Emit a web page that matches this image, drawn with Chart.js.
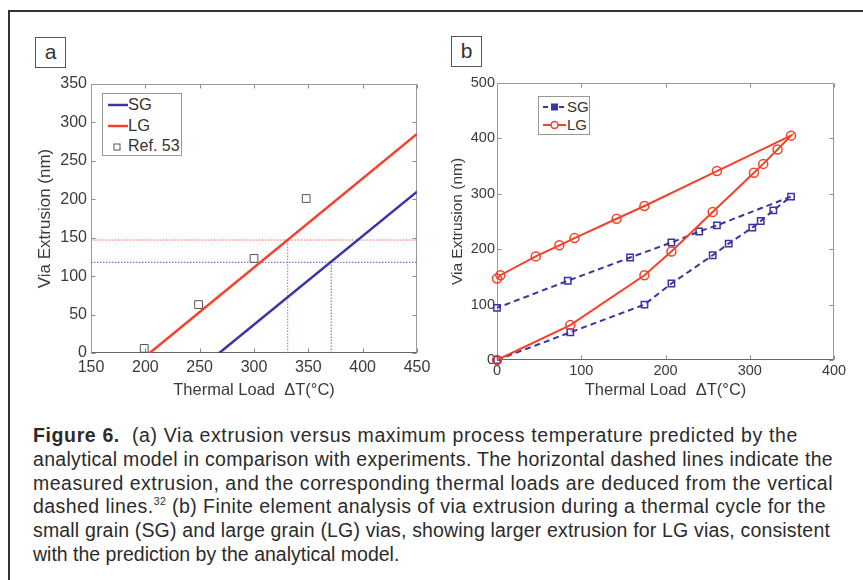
<!DOCTYPE html>
<html>
<head>
<meta charset="utf-8">
<script src="https://cdn.jsdelivr.net/npm/chart.js@4.4.0/dist/chart.umd.min.js"></script>
<style>
    html, body { margin: 0; padding: 0; background: #fff; }
    body { width: 863px; height: 580px; position: relative; overflow: hidden; font-family: "Liberation Sans", Arial, sans-serif; color: #333; }
    #frame { position: absolute; left: 8px; top: 10px; width: 900px; height: 620px; border: 2px solid #333; box-sizing: border-box; }
    canvas { position: absolute; top: 0; }
    #chartA { left: 0; }
    #chartB { left: 430px; }
    .tag { position: absolute; width: 31px; height: 31px; border: 1px solid #555; box-sizing: border-box; font-size: 21px; line-height: 27px; text-align: center; color: #333; background: #fff; }
    .legend { position: absolute; border: 1px solid #999; background: #fff; box-sizing: border-box; }
    .legend svg { position: absolute; left: 0; top: 0; }
    .legend span { position: absolute; white-space: nowrap; color: #333; }
    #caption { position: absolute; left: 33px; top: 424px; font-size: 17.5px; line-height: 23.8px; color: #2b2b2b; }
    #caption div { white-space: nowrap; height: 23.8px; }
    #caption div span.ln { display: inline-block; }
    sup { font-size: 10.5px; line-height: 0; position: relative; top: -1px; }
</style>
</head>
<body>
<div id="frame"></div>
<canvas id="chartA" width="440" height="400"></canvas>
<canvas id="chartB" width="433" height="400"></canvas>

<div class="tag" style="left:35px; top:37px;">a</div>
<div class="tag" style="left:451px; top:36px;">b</div>

<div class="legend" style="left:102px; top:93px; width:80px; height:63px;">
    <svg width="80" height="63">
        <line x1="5" y1="11" x2="25" y2="11" stroke="#3b35a3" stroke-width="2.5"/>
        <line x1="5" y1="32" x2="25" y2="32" stroke="#f5412b" stroke-width="2.5"/>
        <rect x="11" y="50" width="6" height="6" fill="none" stroke="#555" stroke-width="1"/>
    </svg>
    <span style="left:25px; top:1px; font-size:16.5px;">SG</span>
    <span style="left:25px; top:22px; font-size:16.5px;">LG</span>
    <span style="left:25px; top:43px; font-size:16px;">Ref. 53</span>
</div>

<div class="legend" style="left:538px; top:96px; width:52px; height:39px;">
    <svg width="52" height="39">
        <line x1="4" y1="10" x2="27" y2="10" stroke="#3b35a3" stroke-width="2" stroke-dasharray="5,3"/>
        <rect x="12.5" y="7" width="6" height="6" fill="#3b35a3" stroke="#3b35a3" stroke-width="1"/>
        <line x1="4" y1="28" x2="27" y2="28" stroke="#f5412b" stroke-width="2"/>
        <circle cx="15.5" cy="28" r="3.5" fill="#fff" stroke="#f5412b" stroke-width="1.5"/>
    </svg>
    <span style="left:28px; top:1px; font-size:15px;">SG</span>
    <span style="left:28px; top:19px; font-size:15px;">LG</span>
</div>

<div id="caption">
    <div><span class="ln" data-w="765"><b>Figure 6.</b>&nbsp; (a) Via extrusion versus maximum process temperature predicted by the</span></div>
    <div><span class="ln" data-w="800">analytical model in comparison with experiments. The horizontal dashed lines indicate the</span></div>
    <div><span class="ln" data-w="800">measured extrusion, and the corresponding thermal loads are deduced from the vertical</span></div>
    <div><span class="ln" data-w="793">dashed lines.<sup>32</sup> (b) Finite element analysis of via extrusion during a thermal cycle for the</span></div>
    <div><span class="ln" data-w="797">small grain (SG) and large grain (LG) vias, showing larger extrusion for LG vias, consistent</span></div>
    <div><span class="ln">with the prediction by the analytical model.</span></div>
</div>

<script>
// (a) analytical model: straight lines over thermal load
const sgModelLoad = [268, 450];
const sgModelExtrusion = [0, 210];
const lgModelLoad = [204, 450];
const lgModelExtrusion = [0, 285];

// (a) Ref. 53 experiments
const ref53Load = [199, 249, 300, 348];
const ref53Extrusion = [6, 63, 123, 201];

// (a) measured extrusion and deduced thermal loads (dashed guides)
const lgMeasured = 147;
const lgDeducedLoad = 331;
const sgMeasured = 118;
const sgDeducedLoad = 371;

// (b) finite element thermal cycle (heating branch then cooling branch)
const sgCycleLoad = [0, 87, 175, 207, 256, 275, 303, 313, 328, 349, 261, 240, 207, 158, 84, 0];
const sgCycleExtrusion = [0, 50, 100, 138, 189, 210, 239, 251, 270, 295, 243, 232, 212, 185, 143, 94];
const lgCycleLoad = [0, 87, 175, 207, 256, 305, 316, 333, 349, 261, 175, 142, 92, 74, 46, 4, 0];
const lgCycleExtrusion = [0, 63, 153, 196, 267, 338, 354, 380, 405, 341, 278, 255, 220, 207, 187, 153, 147];

const SG_COLOR = '#3b35a3';
const LG_COLOR = '#f5412b';

Chart.defaults.font.family = '"Liberation Sans", Arial, sans-serif';

function pts(xs, ys) {
    return xs.map((x, i) => ({ x: x, y: ys[i] }));
}

// matlab style box with inward ticks
const matlabBox = {
    id: 'matlabBox',
    beforeDatasetsDraw(chart) {
        const ctx = chart.ctx;
        const a = chart.chartArea;
        const xs = chart.scales.x;
        const ys = chart.scales.y;
        const l = Math.round(a.left) + 0.5, r = Math.round(a.right) - 0.5;
        const t = Math.round(a.top) + 0.5, b = Math.round(a.bottom) - 0.5;
        ctx.save();
        ctx.strokeStyle = '#8a8a8a';
        ctx.lineWidth = 1;
        ctx.beginPath();
        xs.ticks.forEach(tk => {
            const px = Math.round(xs.getPixelForValue(tk.value)) + 0.5;
            ctx.moveTo(px, b); ctx.lineTo(px, b - 4);
            ctx.moveTo(px, t); ctx.lineTo(px, t + 4);
        });
        ys.ticks.forEach(tk => {
            const py = Math.round(ys.getPixelForValue(tk.value)) + 0.5;
            ctx.moveTo(l, py); ctx.lineTo(l + 4, py);
            ctx.moveTo(r, py); ctx.lineTo(r - 4, py);
        });
        ctx.stroke();
        ctx.strokeStyle = '#9a9a9a';
        ctx.strokeRect(l, t, r - l, b - t);
        ctx.strokeStyle = '#666';
        ctx.beginPath();
        ctx.moveTo(l, b); ctx.lineTo(r, b);
        ctx.stroke();
        ctx.restore();
    }
};

function axes(cfg) {
    return {
        x: {
            type: 'linear', min: cfg.xMin, max: cfg.xMax,
            grid: { display: false, drawTicks: false }, border: { display: false },
            ticks: { stepSize: cfg.xStep, padding: cfg.xPad, color: '#3a3a3a', font: { size: cfg.tickSize } },
            title: { display: true, text: 'Thermal Load  \u0394T(\u00b0C)', color: '#3a3a3a', font: { size: 16.5 }, padding: { top: 0, bottom: 0 } },
            afterFit: s => { s.height = cfg.xHeight; }
        },
        y: {
            type: 'linear', min: cfg.yMin, max: cfg.yMax,
            grid: { display: false, drawTicks: false }, border: { display: false },
            ticks: { stepSize: cfg.yStep, padding: cfg.yPad, color: '#3a3a3a', font: { size: cfg.tickSize } },
            title: { display: true, text: 'Via Extrusion (nm)', color: '#3a3a3a', font: { size: cfg.yTitleSize }, padding: { top: cfg.yTitlePad, bottom: 0 } },
            afterFit: s => { s.width = cfg.yWidth; }
        }
    };
}

const common = {
    responsive: false,
    animation: false,
    devicePixelRatio: 1,
    plugins: { legend: { display: false }, tooltip: { enabled: false } }
};

new Chart(document.getElementById('chartA').getContext('2d'), {
    type: 'scatter',
    data: {
        datasets: [
            { data: pts(ref53Load, ref53Extrusion), pointStyle: 'rect', pointRadius: 5.5, borderColor: '#555', backgroundColor: 'rgba(0,0,0,0)', borderWidth: 1, clip: false },
            { data: pts(lgModelLoad, lgModelExtrusion), showLine: true, borderColor: LG_COLOR, borderWidth: 2.5, pointRadius: 0 },
            { data: pts(sgModelLoad, sgModelExtrusion), showLine: true, borderColor: SG_COLOR, borderWidth: 2.5, pointRadius: 0 },
            { data: pts([150, 450], [lgMeasured, lgMeasured]), showLine: true, borderColor: '#ff5a4a', borderWidth: 1, borderDash: [1.5, 1.5], pointRadius: 0 },
            { data: pts([lgDeducedLoad, lgDeducedLoad], [0, lgMeasured]), showLine: true, borderColor: '#ff5a4a', borderWidth: 1, borderDash: [1.5, 1.5], pointRadius: 0 },
            { data: pts([150, 450], [sgMeasured, sgMeasured]), showLine: true, borderColor: '#5a55c0', borderWidth: 1, borderDash: [1.5, 1.5], pointRadius: 0 },
            { data: pts([sgDeducedLoad, sgDeducedLoad], [0, sgMeasured]), showLine: true, borderColor: '#5a55c0', borderWidth: 1, borderDash: [1.5, 1.5], pointRadius: 0 }
        ]
    },
    options: Object.assign({}, common, {
        layout: { padding: { left: 30, top: 84, right: 23, bottom: 0 } },
        scales: axes({ xMin: 150, xMax: 450, xStep: 50, yMin: 0, yMax: 350, yStep: 50,
            tickSize: 16, xPad: 5, yPad: 4, xHeight: 47, yWidth: 61, yTitleSize: 17, yTitlePad: 5 })
    }),
    plugins: [matlabBox]
});

new Chart(document.getElementById('chartB').getContext('2d'), {
    type: 'scatter',
    data: {
        datasets: [
            { data: pts(lgCycleLoad, lgCycleExtrusion), showLine: true, borderColor: LG_COLOR, borderWidth: 2, pointStyle: 'circle', pointRadius: 4.5, pointBorderWidth: 1.5, pointBorderColor: LG_COLOR, pointBackgroundColor: 'rgba(255,255,255,0)', clip: false },
            { data: pts(sgCycleLoad, sgCycleExtrusion), showLine: true, borderColor: SG_COLOR, borderWidth: 2, borderDash: [6, 4], pointStyle: 'rect', pointRadius: 4.5, pointBorderWidth: 1.5, pointBorderColor: SG_COLOR, pointBackgroundColor: 'rgba(255,255,255,0)', clip: false }
        ]
    },
    options: Object.assign({}, common, {
        layout: { padding: { left: 14, top: 83, right: 29, bottom: 0 } },
        scales: axes({ xMin: 0, xMax: 400, xStep: 100, yMin: 0, yMax: 500, yStep: 100,
            tickSize: 14.5, xPad: 2, yPad: 2, xHeight: 40, yWidth: 53, yTitleSize: 15.5, yTitlePad: 4 })
    }),
    plugins: [matlabBox]
});

// fit caption: one font size from the longest line, then per-line spacing
const lines = Array.from(document.querySelectorAll('#caption .ln'));
const cap = document.getElementById('caption');
const probe = lines[1];
const scale = parseFloat(probe.dataset.w) / probe.getBoundingClientRect().width;
cap.style.fontSize = Math.min(17.5 * scale, 19.5) + 'px';
lines.forEach(el => {
    if (!el.dataset.w) return;
    const target = parseFloat(el.dataset.w);
    const n = el.textContent.length;
    const w = el.getBoundingClientRect().width;
    el.style.letterSpacing = ((target - w) / n) + 'px';
});
</script>
</body>
</html>
